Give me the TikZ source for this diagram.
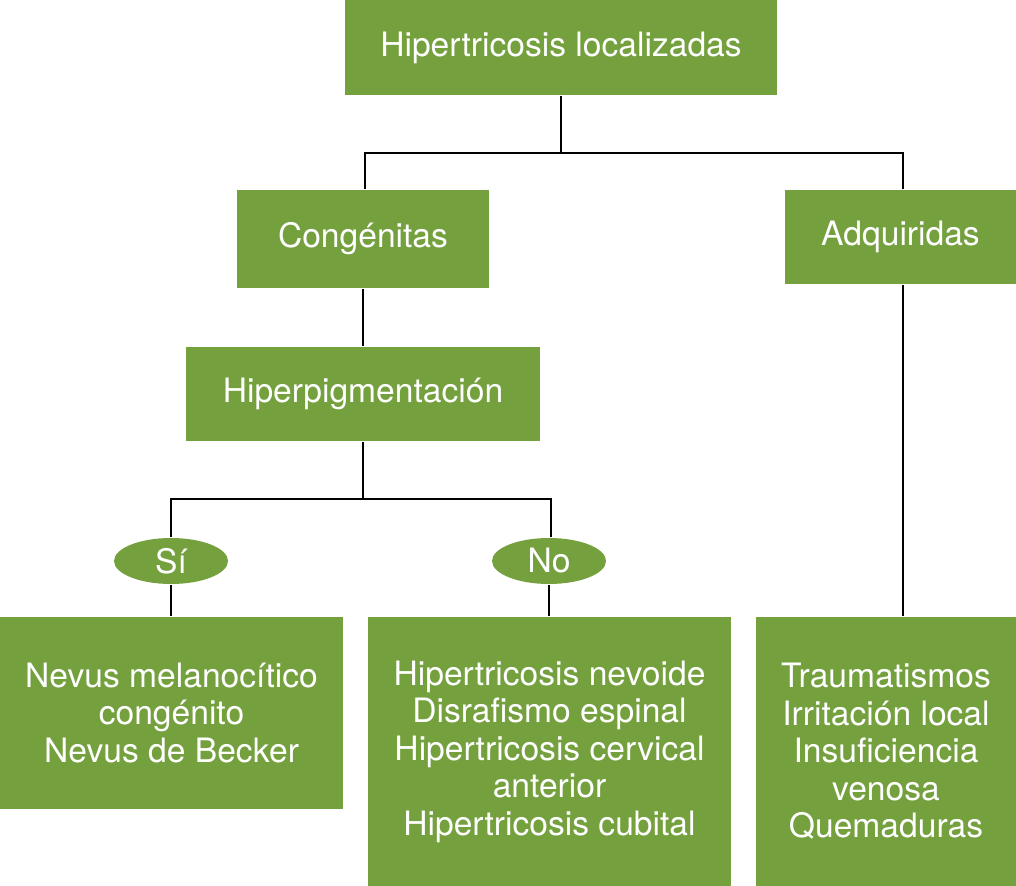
\documentclass[tikz,border=0pt]{standalone}
\usepackage{fontspec}
\setmainfont{TeX Gyre Heros}
\usepackage{xcolor}
\usepackage{tikz}
\usetikzlibrary{shapes.geometric}
\definecolor{hojaverde}{HTML}{74A03E}

\tikzset{
  caja/.style={rectangle, fill=hojaverde, text=white, align=center, inner sep=0pt,
    font=\fontsize{16.8}{18.75}\selectfont},
  resp/.style={ellipse, fill=hojaverde, text=white, inner sep=0pt,
    minimum width=57pt, minimum height=23pt, font=\fontsize{16.8}{18.75}\selectfont},
}

\begin{document}
\begin{tikzpicture}[x=0.5pt, y=-0.5pt, line width=1pt]
    \useasboundingbox (0,0) rectangle (1016,886);

    \node[caja, minimum width=216pt, minimum height=47.5pt](hl) at (561,47.5) {Hipertricosis localizadas};
    \node[caja, minimum width=126pt, minimum height=49pt](cong) at (363,239) {Congénitas};
    \node[caja, minimum width=115.5pt, minimum height=47pt](adq) at (900.5,237) {Adquiridas};
    \node[caja, minimum width=177pt, minimum height=47pt](hip) at (363,394) {Hiperpigmentación};
    \node[resp](si) at (171,561) {Sí};
    \node[resp](no) at (549,561) {No};
    \node[caja, minimum width=171.5pt, minimum height=96pt](nevus) at (171.5,713)
        {Nevus melanocítico\\congénito\\Nevus de Becker};
    \node[caja, minimum width=181.5pt, minimum height=134.5pt](nevoide) at (549.5,751.5)
        {Hipertricosis nevoide\\Disrafismo espinal\\Hipertricosis cervical\\anterior\\Hipertricosis cubital};
    \node[caja, minimum width=130pt, minimum height=134.5pt](trauma) at (886,751.5)
        {Traumatismos\\Irritación local\\Insuficiencia\\venosa\\Quemaduras};

    \draw (hl.south) -- ++(0,57) -| ([xshift=1pt]cong.north);
    \draw (hl.south) -- ++(0,57) -| ([xshift=1pt]adq.north);
    \draw (cong.south) -- (hip.north);
    \draw ([xshift=1pt]adq.south) -- ([xshift=1pt]adq.south |- trauma.north);
    \draw (hip.south) -- ++(0,57) -| (si.north);
    \draw (hip.south) -- ++(0,57) -| ([xshift=1pt]no.north);
    \draw (si.south) -- (si.south |- nevus.north);
    \draw (no.south) -- (no.south |- nevoide.north);
\end{tikzpicture}
\end{document}
